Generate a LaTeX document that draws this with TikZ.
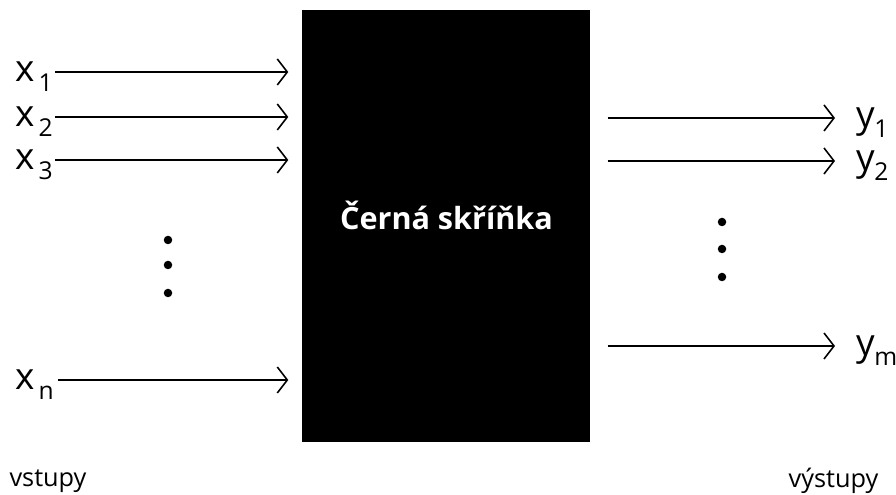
\documentclass[tikz,border=0pt]{standalone}
\usepackage{fontspec}
\setmainfont{Open Sans}
\usetikzlibrary{arrows.meta,positioning}

\begin{document}
\begin{tikzpicture}[
  lbl/.style={inner sep=0pt,anchor=west,text height=0.2cm,text depth=0pt,font=\fontsize{10.5pt}{12pt}\selectfont},
  arr/.style={line width=0.45pt,-{Straight Barb[length=1mm,width=2.6mm]}},
  dot/.style={circle,fill=black,inner sep=0pt,minimum size=0.085cm},
  side/.style={inner sep=0pt,font=\fontsize{7.2pt}{9pt}\selectfont}]

  \newcommand{\ix}[2][1pt]{\kern#1\raisebox{-2.6pt}{\fontsize{7pt}{8pt}\selectfont #2}}
  \useasboundingbox (0,0) rectangle (8.96,4.95);

  % the box
  \node[fill=black,minimum width=2.88cm,minimum height=4.32cm,inner sep=0pt] (box) at (4.46,2.69) {};
  \node[text=white,font=\fontsize{8.7pt}{11pt}\selectfont\bfseries] (title) at (4.465,2.80) {Černá skříňka};

  % inputs
  \node[lbl] (x1) at (0.15,4.23) {x\ix{1}};
  \node[lbl] (x2) at (0.15,3.78) {x\ix{2}};
  \node[lbl] (x3) at (0.15,3.35) {x\ix{3}};
  \node[lbl] (xn) at (0.15,1.15) {x\ix{n}};
  \foreach \i in {x1,x2,x3}
    \draw[arr,shorten <=0.02cm,shorten >=0.13cm] (\i.east) -- (\i.east -| box.west);
  \draw[arr,shorten <=0.04cm,shorten >=0.13cm] (xn.east) -- (xn.east -| box.west);

  \node[dot] (l1) at (1.68,2.55) {};
  \node[dot] (l2) at (1.68,2.30) {};
  \node[dot] (l3) at (1.68,2.02) {};

  % outputs
  \node[lbl] (y1) at (8.56,3.77) {y\ix[-0.3pt]{1}};
  \node[lbl] (y2) at (8.56,3.34) {y\ix[-0.3pt]{2}};
  \node[lbl] (ym) at (8.56,1.49) {y\ix[-0.3pt]{m}};
  \foreach \i in {y1,y2,ym}
    \draw[arr,shorten <=0.17cm,shorten >=0.21cm] (\i.west -| box.east) -- (\i.west);

  \node[dot] (r1) at (7.22,2.73) {};
  \node[dot] (r2) at (7.22,2.46) {};
  \node[dot] (r3) at (7.22,2.18) {};

  \node[side] (in) at (0.48,0.14) {vstupy};
  \node[side] (out) at (8.335,0.14) {výstupy};
\end{tikzpicture}
\end{document}
